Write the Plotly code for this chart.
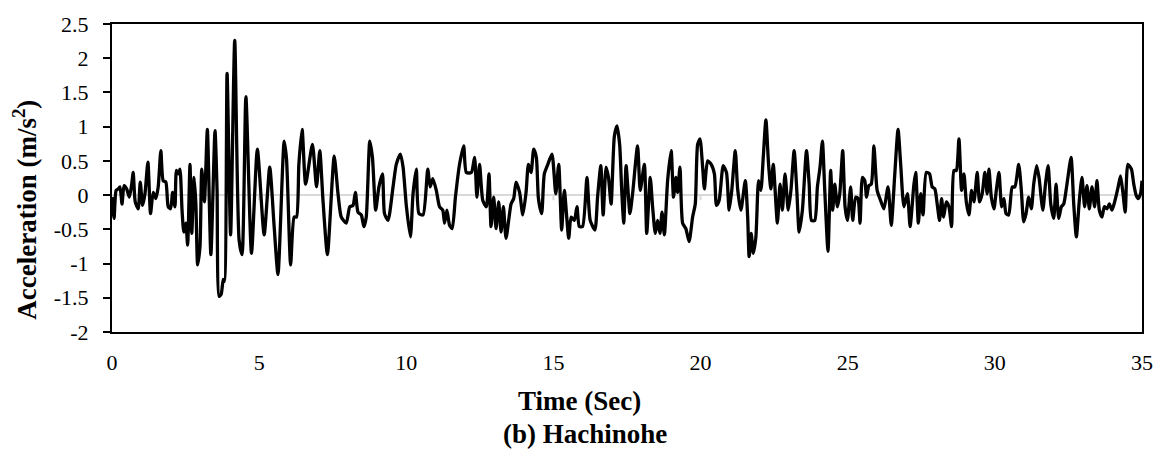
import plotly.graph_objects as go

# Hachinohe ground-motion record: time (s) and acceleration (m/s^2)
time_s = [
    0.00, 0.07, 0.14, 0.21, 0.27, 0.34, 0.41, 0.50, 0.59, 0.67, 0.72, 0.79, 0.89, 0.96,
    1.04, 1.12, 1.22, 1.31, 1.40, 1.49, 1.57, 1.66, 1.74, 1.83, 1.91, 1.99, 2.06, 2.14,
    2.19, 2.26, 2.31, 2.38, 2.44, 2.51, 2.57, 2.65, 2.71, 2.79, 2.85, 2.91, 2.99, 3.05,
    3.14, 3.24, 3.36, 3.50, 3.57, 3.64, 3.71, 3.78, 3.82, 3.91, 4.03, 4.17, 4.32, 4.42,
    4.55, 4.74, 4.94, 5.17, 5.36, 5.51, 5.64, 5.85, 5.93, 6.07, 6.19, 6.27, 6.35, 6.46,
    6.58, 6.81, 6.95, 7.06, 7.17, 7.32, 7.55, 7.68, 7.79, 7.96, 8.08, 8.19, 8.27, 8.36,
    8.47, 8.56, 8.64, 8.76, 8.85, 8.96, 9.07, 9.19, 9.26, 9.38, 9.55, 9.66, 9.80, 9.89,
    10.00, 10.14, 10.23, 10.34, 10.43, 10.57, 10.73, 10.81, 10.90, 11.02, 11.13, 11.24,
    11.30, 11.38, 11.47, 11.56, 11.67, 11.81, 11.95, 12.04, 12.21, 12.32, 12.40, 12.49,
    12.60, 12.72, 12.81, 12.88, 12.97, 13.05, 13.14, 13.22, 13.30, 13.39, 13.56, 13.65,
    13.73, 13.85, 13.96, 14.07, 14.15, 14.24, 14.33, 14.42, 14.49, 14.60, 14.69, 14.81,
    14.95, 15.08, 15.18, 15.28, 15.37, 15.52, 15.60, 15.71, 15.80, 15.88, 15.99, 16.14,
    16.25, 16.41, 16.50, 16.61, 16.69, 16.79, 16.87, 16.96, 17.07, 17.16, 17.25, 17.32,
    17.39, 17.47, 17.60, 17.69, 17.86, 17.95, 18.09, 18.17, 18.29, 18.37, 18.46, 18.54,
    18.62, 18.69, 18.77, 18.88, 19.00, 19.08, 19.16, 19.22, 19.30, 19.39, 19.50, 19.61,
    19.73, 19.82, 19.90, 19.98, 20.07, 20.13, 20.24, 20.36, 20.47, 20.54, 20.63, 20.77,
    20.88, 20.97, 21.06, 21.18, 21.26, 21.37, 21.52, 21.60, 21.65, 21.72, 21.79, 21.88,
    21.97, 22.05, 22.13, 22.22, 22.31, 22.39, 22.47, 22.61, 22.70, 22.78, 22.87, 22.98,
    23.07, 23.18, 23.27, 23.35, 23.46, 23.60, 23.69, 23.77, 23.88, 23.97, 24.06, 24.14,
    24.22, 24.33, 24.42, 24.49, 24.56, 24.65, 24.73, 24.83, 24.91, 24.99, 25.10, 25.17,
    25.27, 25.35, 25.42, 25.50, 25.58, 25.64, 25.72, 25.80, 25.89, 26.00, 26.12, 26.23,
    26.37, 26.48, 26.60, 26.71, 26.80, 26.91, 27.03, 27.12, 27.25, 27.31, 27.40, 27.48,
    27.56, 27.67, 27.78, 27.87, 27.96, 28.04, 28.12, 28.19, 28.26, 28.35, 28.44, 28.53,
    28.61, 28.69, 28.78, 28.87, 28.95, 29.03, 29.12, 29.21, 29.29, 29.40, 29.48, 29.57,
    29.66, 29.74, 29.80, 29.88, 29.97, 30.05, 30.14, 30.23, 30.31, 30.38, 30.47, 30.59,
    30.68, 30.81, 30.90, 30.98, 31.06, 31.15, 31.24, 31.32, 31.42, 31.50, 31.63, 31.72,
    31.81, 31.90, 32.00, 32.08, 32.17, 32.26, 32.34, 32.45, 32.59, 32.68, 32.77, 32.87,
    32.96, 33.05, 33.13, 33.21, 33.30, 33.39, 33.47, 33.55, 33.64, 33.72, 33.81, 33.89,
    33.98, 34.07, 34.19, 34.27, 34.35, 34.43, 34.52, 34.64, 34.72, 34.80, 34.87, 34.95,
    35.00,
]

accel = [
    -0.03, -0.34, 0.07, 0.09, 0.12, -0.13, 0.14, 0.09, -0.03, 0.16, 0.33, -0.10, -0.20, 0.19,
    -0.15, 0.02, 0.48, -0.27, 0.04, -0.05, 0.12, 0.65, 0.21, 0.19, -0.17, -0.20, 0.04, -0.17,
    0.36, 0.31, 0.38, -0.22, -0.54, -0.41, -0.73, 0.45, -0.56, 0.26, -0.13, -1.02, -0.75, 0.38,
    -0.10, 0.96, -0.87, 0.94, 0.07, -1.48, -1.45, -1.23, -1.26, 1.78, -0.58, 2.26, -0.66, -0.87,
    1.44, -0.85, 0.67, -0.58, 0.41, -0.46, -1.16, 0.79, 0.53, -1.02, -0.32, -0.32, 0.45, 0.96,
    0.16, 0.74, 0.12, 0.65, -0.08, -0.87, 0.57, 0.02, -0.32, -0.41, -0.17, -0.15, 0.04, -0.25,
    -0.29, -0.46, -0.32, 0.79, 0.55, -0.22, 0.12, 0.31, -0.27, -0.37, 0.12, 0.45, 0.60, 0.41,
    -0.15, -0.61, 0.02, 0.38, -0.27, -0.29, 0.38, 0.12, 0.24, 0.07, -0.17, -0.22,
    -0.41, -0.22, -0.44, -0.49, -0.03, 0.45, 0.72, 0.33, 0.33, 0.55, -0.03, 0.45,
    -0.08, -0.17, 0.31, -0.46, -0.03, -0.49, -0.10, -0.54, -0.17, -0.63, -0.13, -0.05,
    0.19, 0.04, -0.29, 0.04, 0.45, 0.33, 0.67, 0.55, -0.05, -0.27, 0.31, 0.45,
    0.60, 0.02, 0.45, -0.51, 0.07, -0.63, -0.32, -0.37, -0.17, -0.46, -0.46, 0.26,
    -0.37, -0.51, -0.03, 0.43, -0.29, 0.41, 0.26, -0.13, 0.86, 1.01, 0.74, 0.07,
    -0.41, 0.43, -0.27, 0.02, 0.72, 0.07, 0.45, -0.56, 0.26, -0.17, -0.56, -0.37,
    -0.56, -0.25, -0.58, 0.21, 0.65, -0.03, 0.26, 0.04, 0.41, -0.41, -0.49, -0.68,
    -0.32, -0.13, 0.74, 0.82, 0.41, 0.09, 0.50, 0.45, 0.31, -0.15, -0.08, 0.43,
    0.33, -0.22, 0.07, 0.65, 0.09, -0.22, 0.21, -0.32, -0.90, -0.56, -0.85, -0.61,
    0.21, 0.07, 0.55, 1.10, 0.45, 0.09, 0.45, -0.41, 0.16, -0.22, 0.31, -0.22,
    0.07, 0.65, 0.07, -0.54, -0.22, 0.65, 0.16, -0.37, -0.37, 0.12, 0.41, 0.79,
    0.07, -0.82, 0.36, -0.22, 0.16, -0.17, 0.02, 0.65, -0.17, -0.37, 0.12, -0.37,
    -0.03, -0.05, -0.41, 0.26, 0.21, -0.03, 0.14, 0.16, 0.72, 0.07, -0.08, -0.20,
    0.12, -0.44, 0.31, 0.96, 0.45, -0.17, 0.02, -0.46, 0.16, 0.33, -0.41, 0.02,
    -0.29, 0.33, 0.31, 0.12, 0.09, -0.13, -0.37, -0.05, -0.32, -0.10, -0.17, -0.46,
    0.36, 0.36, 0.82, 0.07, 0.31, -0.10, -0.29, 0.07, -0.10, 0.33, -0.10, 0.02,
    0.33, 0.02, 0.38, -0.03, -0.20, 0.07, 0.33, -0.17, -0.05, -0.27, -0.29, 0.12,
    0.12, 0.45, 0.07, -0.39, -0.27, -0.03, -0.20, 0.16, 0.43, 0.26, -0.22, 0.16,
    0.43, -0.13, -0.34, 0.16, -0.34, -0.17, -0.13, 0.16, 0.55, -0.13, -0.61, -0.08,
    0.26, -0.17, 0.14, -0.20, 0.12, -0.17, 0.21, -0.22, -0.32, -0.17, -0.20, -0.13,
    -0.22, -0.10, 0.12, 0.28, 0.04, -0.25, 0.45, 0.38, 0.16, 0.00, -0.05, 0.02,
    0.21,
]

# Axis ticks
x_ticks = [0, 5, 10, 15, 20, 25, 30, 35]
y_ticks = [-2, -1.5, -1, -0.5, 0, 0.5, 1, 1.5, 2, 2.5]
y_tick_text = ["-2", "-1.5", "-1", "-0.5", "0", "0.5", "1", "1.5", "2", "2.5"]

SERIF = "Times New Roman, Liberation Serif, DejaVu Serif, serif"

fig = go.Figure()
fig.add_trace(go.Scatter(
    x=time_s, y=accel, mode="lines",
    line=dict(color="black", width=3.3, shape="spline", smoothing=0.6),
    showlegend=False, hoverinfo="skip",
))

# zero-crossing axis with its small tick marks
shapes = [dict(type="line", xref="x", yref="y", x0=0, x1=35, y0=0, y1=0,
               line=dict(color="#d9d9d9", width=2), layer="below")]
for xv in x_ticks:
    shapes.append(dict(type="line", xref="x", yref="y", x0=xv, x1=xv, y0=0, y1=-0.075,
                       line=dict(color="#d9d9d9", width=2), layer="below"))

L, R, T, B = 112, 21, 20, 123
W, H = 1165, 455
pw, ph = W - L - R, H - T - B

def px_x(p):
    return (p - L) / pw

def px_y(p):
    return (H - B - p) / ph

annotations = [
    dict(text="<b>Acceleration (m/s<sup>2</sup>)</b>", xref="paper", yref="paper",
         x=px_x(24), y=px_y(208), xanchor="center", yanchor="middle",
         textangle=-90, showarrow=False,
         font=dict(family=SERIF, size=27, color="black")),
    dict(text="<b>Time (Sec)</b>", xref="paper", yref="paper",
         x=px_x(580), y=px_y(402), xanchor="center", yanchor="middle", showarrow=False,
         font=dict(family=SERIF, size=27, color="black")),
    dict(text="<b>(b) Hachinohe</b>", xref="paper", yref="paper",
         x=px_x(586), y=px_y(435), xanchor="center", yanchor="middle", showarrow=False,
         font=dict(family=SERIF, size=27, color="black")),
]

fig.update_layout(
    width=W, height=H,
    margin=dict(l=L, r=R, t=T, b=B),
    paper_bgcolor="white", plot_bgcolor="white",
    shapes=shapes, annotations=annotations,
    xaxis=dict(
        range=[0, 35], tickvals=x_ticks, ticks="", showgrid=False, zeroline=False,
        showline=True, mirror=True, linecolor="black", linewidth=2,
        tickfont=dict(family=SERIF, size=22, color="black"), ticklabelstandoff=10,
    ),
    yaxis=dict(
        range=[-2, 2.5], tickvals=y_ticks, ticktext=y_tick_text,
        ticks="outside", ticklen=7, tickwidth=2, tickcolor="black",
        showgrid=False, zeroline=False,
        showline=True, mirror=True, linecolor="black", linewidth=2,
        tickfont=dict(family=SERIF, size=22, color="black"), ticklabelstandoff=10,
    ),
)

fig.write_html("out.html")
